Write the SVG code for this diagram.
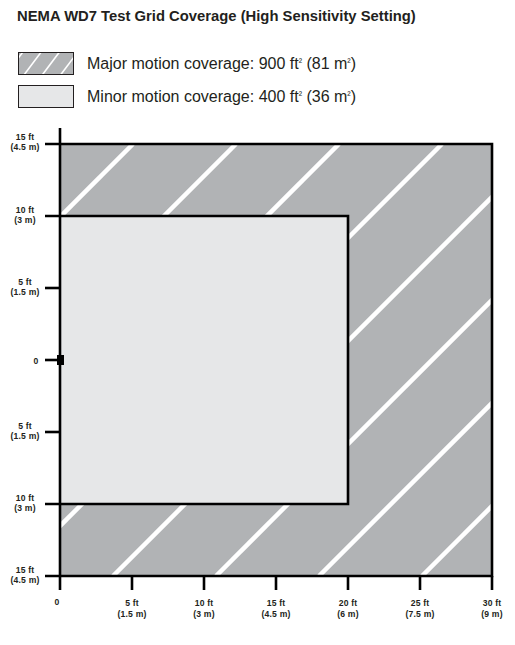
<svg xmlns="http://www.w3.org/2000/svg" width="515" height="645" viewBox="0 0 515 645">
<style>
.title{font-family:"Liberation Sans",Arial,sans-serif;font-weight:bold;font-size:14.8px;fill:#231f20}
.leg{font-family:"Liberation Sans",Arial,sans-serif;font-size:16px;fill:#231f20}
.sup{font-size:10px;baseline-shift:4.5px}
.ax{font-family:"Liberation Sans",Arial,sans-serif;font-weight:bold;font-size:8.6px;letter-spacing:0.2px;fill:#231f20;text-anchor:middle}
.major{fill:#b1b3b5}
.minor{fill:#e6e7e8}
.stripe{stroke:#fff;stroke-width:4.5;fill:none}
.sstripe{stroke:#fff;stroke-width:1.6;fill:none}
.bd{stroke:#000;stroke-width:2.6;fill:none}
.sw{stroke:#231f20;stroke-width:1}
</style>
<defs>
<clipPath id="clipMajor"><rect x="60" y="144" width="432" height="432"/></clipPath>
<clipPath id="clipSw"><rect x="18.5" y="52.5" width="55" height="22"/></clipPath>
</defs>

<text class="title" x="17" y="21">NEMA WD7 Test Grid Coverage (High Sensitivity Setting)</text>

<g id="legend-major">
<rect class="major" x="18.5" y="52.5" width="55" height="22"/>
<g clip-path="url(#clipSw)">
<line class="sstripe" x1="6" y1="74.5" x2="22.5" y2="52.5"/>
<line class="sstripe" x1="24.3" y1="74.5" x2="40.8" y2="52.5"/>
<line class="sstripe" x1="42.6" y1="74.5" x2="59.1" y2="52.5"/>
<line class="sstripe" x1="60.9" y1="74.5" x2="77.4" y2="52.5"/>
</g>
<rect class="sw" fill="none" x="18.5" y="52.5" width="55" height="22"/>
<text class="leg" x="87" y="69">Major motion coverage: 900 ft<tspan class="sup">²</tspan> (81 m<tspan class="sup">²</tspan>)</text>
</g>

<g id="legend-minor">
<rect class="minor sw" x="18.5" y="85.5" width="55" height="22"/>
<text class="leg" x="87" y="102">Minor motion coverage: 400 ft<tspan class="sup">²</tspan> (36 m<tspan class="sup">²</tspan>)</text>
</g>

<g id="major-area">
<rect class="major" x="60" y="144" width="432" height="432"/>
<g clip-path="url(#clipMajor)">
<line class="stripe" x1="-299" y1="576" x2="133" y2="144"/>
<line class="stripe" x1="-196" y1="576" x2="236" y2="144"/>
<line class="stripe" x1="-93" y1="576" x2="339" y2="144"/>
<line class="stripe" x1="10" y1="576" x2="442" y2="144"/>
<line class="stripe" x1="113" y1="576" x2="545" y2="144"/>
<line class="stripe" x1="216" y1="576" x2="648" y2="144"/>
<line class="stripe" x1="319" y1="576" x2="751" y2="144"/>
<line class="stripe" x1="422" y1="576" x2="854" y2="144"/>
</g>
<polyline class="bd" points="45,144 492,144 492,576 45,576"/>
</g>

<g id="minor-area">
<rect class="minor" x="60" y="216" width="288" height="288"/>
<polyline class="bd" points="45,216 348,216 348,504 45,504"/>
</g>

<g id="axes">
<line class="bd" x1="60" y1="128" x2="60" y2="590"/>
<line class="bd" x1="45" y1="288" x2="60" y2="288"/>
<line class="bd" x1="45" y1="360" x2="60" y2="360"/>
<line class="bd" x1="45" y1="432" x2="60" y2="432"/>
<line class="bd" x1="132" y1="576" x2="132" y2="590"/>
<line class="bd" x1="204" y1="576" x2="204" y2="590"/>
<line class="bd" x1="276" y1="576" x2="276" y2="590"/>
<line class="bd" x1="348" y1="576" x2="348" y2="590"/>
<line class="bd" x1="420" y1="576" x2="420" y2="590"/>
<line class="bd" x1="492" y1="576" x2="492" y2="590"/>
<rect x="57" y="355" width="7" height="10" fill="#000"/>
</g>

<g id="y-labels">
<text class="ax" x="25" y="139.5">15 ft</text><text class="ax" x="25" y="149.5">(4.5 m)</text>
<text class="ax" x="25" y="212.5">10 ft</text><text class="ax" x="25" y="222.5">(3 m)</text>
<text class="ax" x="25" y="284.5">5 ft</text><text class="ax" x="25" y="294.5">(1.5 m)</text>
<text class="ax" x="36" y="364">0</text>
<text class="ax" x="25" y="428.5">5 ft</text><text class="ax" x="25" y="438.5">(1.5 m)</text>
<text class="ax" x="25" y="500.5">10 ft</text><text class="ax" x="25" y="510.5">(3 m)</text>
<text class="ax" x="25" y="572.5">15 ft</text><text class="ax" x="25" y="582.5">(4.5 m)</text>
</g>

<g id="x-labels">
<text class="ax" x="57" y="605">0</text>
<text class="ax" x="132" y="606">5 ft</text><text class="ax" x="132" y="616.5">(1.5 m)</text>
<text class="ax" x="204" y="606">10 ft</text><text class="ax" x="204" y="616.5">(3 m)</text>
<text class="ax" x="276" y="606">15 ft</text><text class="ax" x="276" y="616.5">(4.5 m)</text>
<text class="ax" x="348" y="606">20 ft</text><text class="ax" x="348" y="616.5">(6 m)</text>
<text class="ax" x="420" y="606">25 ft</text><text class="ax" x="420" y="616.5">(7.5 m)</text>
<text class="ax" x="492" y="606">30 ft</text><text class="ax" x="492" y="616.5">(9 m)</text>
</g>
</svg>
